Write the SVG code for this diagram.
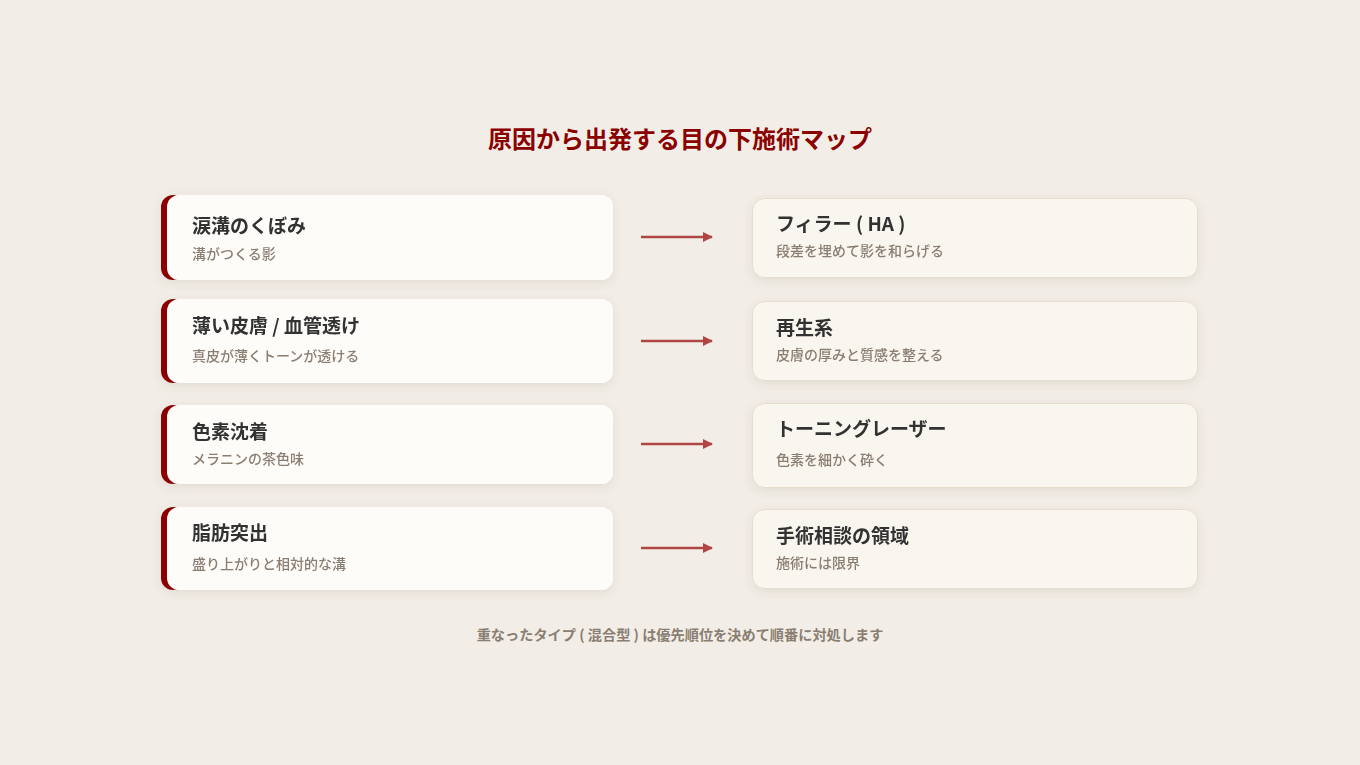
<svg xmlns="http://www.w3.org/2000/svg" width="1360" height="765" viewBox="0 0 1360 765">
<defs>
<filter id="sh" x="-10%" y="-30%" width="120%" height="160%">
<feDropShadow dx="0" dy="3" stdDeviation="5" flood-color="#6b5a40" flood-opacity="0.12"/>
</filter>
<marker id="ah" viewBox="0 0 10 10" refX="9" refY="5" markerWidth="10" markerHeight="10" markerUnits="userSpaceOnUse" orient="auto">
<path d="M0,0 L10,5 L0,10 z" fill="#a83434"/>
</marker>
<style>
.t{font-family:"Noto Sans CJK JP","Noto Sans",sans-serif;font-weight:700;font-size:19px;fill:#333333}
.s{font-family:"Noto Sans CJK JP","Noto Sans",sans-serif;font-weight:500;font-size:14px;fill:#8a7e72}
.lb{fill:#8b0000}
.lc{fill:#fdfcf9}
.rc{fill:#f9f5ef;stroke:#e6dccb;stroke-width:1}
.ar{stroke:#a83434;stroke-width:2.5;fill:none;marker-end:url(#ah);opacity:0.9}
</style>
</defs>
<rect width="1360" height="765" fill="#f2eee7"/>
<text x="680" y="148" text-anchor="middle" style="font-family:'Noto Sans CJK JP','Noto Sans',sans-serif;font-weight:700;font-size:24px;fill:#8b0000">原因から出発する目の下施術マップ</text>

<g id="cause1" filter="url(#sh)">
<rect class="lc" x="161" y="195" width="452" height="85" rx="12"/>
<rect class="lb" x="161" y="195" width="24" height="85" rx="12"/>
<rect class="lc" x="167" y="195" width="446" height="85" rx="12"/>
<text class="t" x="192" y="233">涙溝のくぼみ</text>
<text class="s" x="192" y="259">溝がつくる影</text>
</g>
<g id="cause2" filter="url(#sh)">
<rect class="lc" x="161" y="299" width="452" height="84" rx="12"/>
<rect class="lb" x="161" y="299" width="24" height="84" rx="12"/>
<rect class="lc" x="167" y="299" width="446" height="84" rx="12"/>
<text class="t" x="192" y="333">薄い皮膚 / 血管透け</text>
<text class="s" x="192" y="361">真皮が薄くトーンが透ける</text>
</g>
<g id="cause3" filter="url(#sh)">
<rect class="lc" x="161" y="405" width="452" height="79" rx="12"/>
<rect class="lb" x="161" y="405" width="24" height="79" rx="12"/>
<rect class="lc" x="167" y="405" width="446" height="79" rx="12"/>
<text class="t" x="192" y="439">色素沈着</text>
<text class="s" x="192" y="464">メラニンの茶色味</text>
</g>
<g id="cause4" filter="url(#sh)">
<rect class="lc" x="161" y="507" width="452" height="83" rx="12"/>
<rect class="lb" x="161" y="507" width="24" height="83" rx="12"/>
<rect class="lc" x="167" y="507" width="446" height="83" rx="12"/>
<text class="t" x="192" y="540">脂肪突出</text>
<text class="s" x="192" y="569">盛り上がりと相対的な溝</text>
</g>

<g id="treat1" filter="url(#sh)">
<rect class="rc" x="752.5" y="198.5" width="445" height="79" rx="12"/>
<text class="t" x="776" y="231">フィラー ( HA )</text>
<text class="s" x="776" y="256">段差を埋めて影を和らげる</text>
</g>
<g id="treat2" filter="url(#sh)">
<rect class="rc" x="752.5" y="301.5" width="445" height="79" rx="12"/>
<text class="t" x="776" y="335">再生系</text>
<text class="s" x="776" y="360">皮膚の厚みと質感を整える</text>
</g>
<g id="treat3" filter="url(#sh)">
<rect class="rc" x="752.5" y="403.5" width="445" height="84" rx="12"/>
<text class="t" x="776" y="436">トーニングレーザー</text>
<text class="s" x="776" y="465">色素を細かく砕く</text>
</g>
<g id="treat4" filter="url(#sh)">
<rect class="rc" x="752.5" y="509.5" width="445" height="79" rx="12"/>
<text class="t" x="776" y="543">手術相談の領域</text>
<text class="s" x="776" y="568">施術には限界</text>
</g>

<g id="connectors">
<line class="ar" x1="641" y1="237" x2="712" y2="237"/>
<line class="ar" x1="641" y1="341" x2="712" y2="341"/>
<line class="ar" x1="641" y1="444" x2="712" y2="444"/>
<line class="ar" x1="641" y1="548" x2="712" y2="548"/>
</g>

<text x="680" y="640" text-anchor="middle" style="font-family:'Noto Sans CJK JP','Noto Sans',sans-serif;font-weight:700;font-size:14.2px;fill:#8a7e72">重なったタイプ ( 混合型 ) は優先順位を決めて順番に対処します</text>
</svg>
